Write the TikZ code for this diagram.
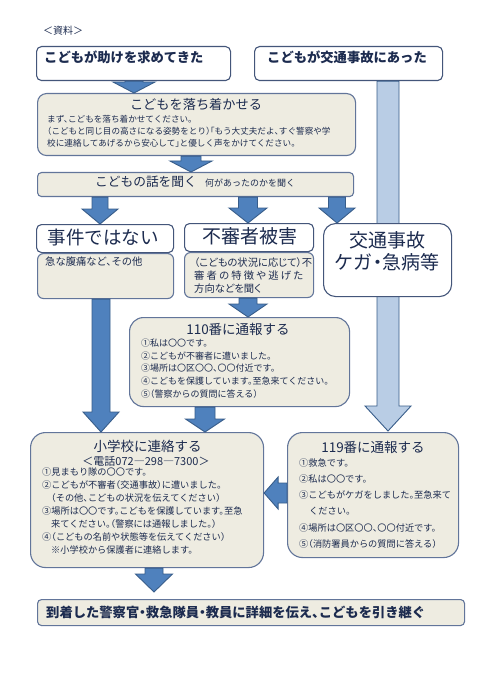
\documentclass[tikz,border=0pt]{standalone}
\usepackage{fontspec}
\setmainfont{Noto Sans CJK JP}[RawFeature=+halt]
\newfontfamily\jpp{Noto Sans CJK JP}[RawFeature=+palt]
\usetikzlibrary{calc}
\definecolor{navy}{HTML}{1C2B4F}
\definecolor{bordc}{HTML}{44567A}
\definecolor{bordb}{HTML}{62759A}
\definecolor{beige}{HTML}{EEECE1}
\definecolor{ablue}{HTML}{4F81BD}
\definecolor{abluedk}{HTML}{385D8A}
\definecolor{lblue}{HTML}{B9CDE5}
\newcommand\fs[2]{\fontsize{#1}{#2}\selectfont}
\newcommand\darrow[6][barrow]{\path[#1] let \p1=(#2), \p2=(#3) in (\x1-#4,\y1) -- (\x1+#4,\y1) -- (\x1+#4,\y2+#6) -- (\x1+#5,\y2+#6) -- (\x1,\y2) -- (\x1-#5,\y2+#6) -- (\x1-#4,\y2+#6) -- cycle;}
\newcommand\larrow[6][barrow]{\path[#1] let \p1=(#2), \p2=(#3) in (\x1,\y1+#4) -- (\x1,\y1-#4) -- (\x2+#6,\y1-#4) -- (\x2+#6,\y1-#5) -- (\x2,\y1) -- (\x2+#6,\y1+#5) -- (\x2+#6,\y1+#4) -- cycle;}
\begin{document}
\begin{tikzpicture}[x=1pt,y=-1pt,
  wbox/.style={draw=bordc, line width=1.1pt, fill=white, rounded corners=#1, inner sep=0pt, anchor=north west},
  wbox/.default=5pt,
  bbox/.style={draw=bordb, line width=1.1pt, fill=beige, rounded corners=#1, inner sep=0pt, anchor=north west},
  bbox/.default=6pt,
  txt/.style={text=navy, inner sep=0pt},
  barrow/.style={fill=ablue, draw=abluedk, line width=0.9pt, line join=miter},
  larrowst/.style={fill=lblue, draw=abluedk, line width=0.9pt, line join=miter}]
\useasboundingbox (0,0) rectangle (480,676);
\fill[white] (0,0) rectangle (480,676);

% boxes
\node[wbox, minimum width=194pt, minimum height=34pt] (help) at (36,46) {};
\node[wbox, minimum width=188pt, minimum height=34pt] (traffic) at (254,46) {};
\coordinate (lbtip) at (388,431);
\darrow[larrowst]{388,0 |- traffic.south}{lbtip}{11pt}{23pt}{25pt}
\node[bbox=9pt, minimum width=318pt, minimum height=62pt] (calm) at (37,93) {};
\node[bbox=4pt, minimum width=316pt, minimum height=24pt] (listen) at (37,172) {};
\node[wbox, minimum width=137pt, minimum height=28pt] (nocase) at (36,224) {};
\node[bbox, minimum width=136pt, minimum height=45pt] (nocaseD) at (37,253) {};
\node[wbox, minimum width=129pt, minimum height=28pt] (susp) at (184,223) {};
\node[bbox, minimum width=129pt, minimum height=45pt] (suspD) at (184,252) {};
\node[wbox=12pt, minimum width=128pt, minimum height=73pt] (accident) at (323,223) {};
\node[bbox=14pt, minimum width=220pt, minimum height=89pt] (call110) at (129,317) {};
\node[bbox=15pt, minimum width=233pt, minimum height=135pt] (school) at (30,432) {};
\node[bbox=15pt, minimum width=171pt, minimum height=125pt] (call119) at (287,432) {};
\node[bbox=4pt, minimum width=427pt, minimum height=26pt] (final) at (37,599) {};

% blue arrows
\darrow{134,0 |- help.south}{134,0 |- calm.north}{9pt}{21pt}{11pt}
\darrow{191,0 |- calm.south}{191,0 |- listen.north}{10pt}{21pt}{11pt}
\darrow{100,0 |- listen.south}{100,0 |- nocase.north}{8pt}{18pt}{15pt}
\darrow{248,0 |- listen.south}{248,0 |- susp.north}{9.5pt}{19pt}{15pt}
\darrow{337,0 |- listen.south}{337,0 |- accident.north}{8.5pt}{18pt}{15pt}
\darrow{101,0 |- nocaseD.south}{101,0 |- school.north}{9pt}{18pt}{20pt}
\darrow{248,0 |- suspD.south}{248,0 |- call110.north}{9pt}{19pt}{13pt}
\darrow{205,0 |- call110.south}{205,0 |- school.north}{10pt}{19.5pt}{13pt}
\coordinate (ftip) at (154,592);
\darrow{154,0 |- school.south}{ftip}{9pt}{18.5pt}{18pt}
\larrow{call119.west |- 0,493}{school.east |- 0,493}{10pt}{16pt}{14pt}

% texts
\node[txt, anchor=west, font=\fs{10}{12}] (shiryo) at (43,31) {＜資料＞};
\node[txt, anchor=west, font=\bfseries\fs{13.3}{15}] (helpt) at (44,57) {こどもが助けを求めてきた};
\node[txt, anchor=west, font=\bfseries\fs{13.3}{15}] (traffict) at (267,57) {こどもが交通事故にあった};
\node[txt, font=\fs{13.2}{15}] (calmt) at (196,104) {こどもを落ち着かせる};
\node[txt, anchor=north west, align=left, font=\fs{8.6}{12}] (calmb) at (47,115) {まず、こどもを落ち着かせてください。\\（こどもと同じ目の高さになる姿勢をとり）「もう大丈夫だよ、すぐ警察や学\\校に連絡してあげるから安心して」と優しく声をかけてください。};
\node[txt, anchor=base west, font=\fs{12.7}{15}] (listent) at (95,187) {こどもの話を聞く};
\node[txt, anchor=base west, font=\fs{9}{11}] (listens) at (205,187) {何があったのかを聞く};
\node[txt, font=\fs{18.5}{20}] (nocaset) at (103,237.5) {事件ではない};
\node[txt, anchor=west, font=\fs{10.3}{12}] (nocaseDt) at (45,262) {急な腹痛など、その他};
\node[txt, font=\fs{19}{21}] (suspt) at (249.5,236.5) {不審者被害};
\node[txt, anchor=north west, align=left, font=\jpp\fs{10.3}{13}] (suspDt) at (194,257) {\makebox[109pt][s]{（\hfil こ\hfil ど\hfil も\hfil の\hfil 状\hfil 況\hfil に\hfil 応\hfil じ\hfil て\hfil ）\hfil 不}\\\makebox[109pt][s]{審\hfil 者\hfil の\hfil 特\hfil 徴\hfil や\hfil 逃\hfil げ\hfil た}\\方向などを聞く};
\node[txt, align=center, font=\fs{19}{22}] (accidentt) at (387,251) {交通事故\\ケガ・急病等};
\node[txt, font=\fs{13.5}{15}] (call110t) at (238,329) {110番に通報する};
\node[txt, anchor=north west, align=left, font=\fs{9}{12.8}] (call110b) at (141,338.5) {①私は〇〇です。\\②こどもが不審者に遭いました。\\③場所は〇区〇〇、〇〇付近です。\\④こどもを保護しています。至急来てください。\\⑤（警察からの質問に答える）};
\node[txt, font=\fs{13.5}{15}] (schoolt) at (147.5,446) {小学校に連絡する};
\node[txt, font=\fs{11}{12}] (schools) at (146,461) {＜電話072―298―7300＞};
\node[txt, anchor=north west, align=left, font=\fs{9.2}{12.9}] (schoolb) at (42,468) {①見まもり隊の〇〇です。\\②こどもが不審者（交通事故）に遭いました。\\\hspace*{9pt}（その他、こどもの状況を伝えてください）\\③場所は〇〇です。こどもを保護しています。至急\\\hspace*{9pt}来てください。（警察には通報しました。）\\④（こどもの名前や状態等を伝えてください）\\\hspace*{9pt}※小学校から保護者に連絡します。};
\node[txt, font=\fs{13.5}{15}] (call119t) at (373,447) {119番に通報する};
\node[txt, anchor=north west, align=left, font=\fs{9.2}{16.2}] (call119b) at (299,458.4) {①救急です。\\②私は〇〇です。\\③こどもがケガをしました。至急来て\\\hspace*{10pt}ください。\\④場所は〇区〇〇、〇〇付近です。\\⑤（消防署員からの質問に答える）};
\node[txt, anchor=west, font=\bfseries\fs{13.3}{15}] (finalt) at (46,612) {到着した警察官・救急隊員・教員に詳細を伝え、こどもを引き継ぐ};
\end{tikzpicture}
\end{document}
